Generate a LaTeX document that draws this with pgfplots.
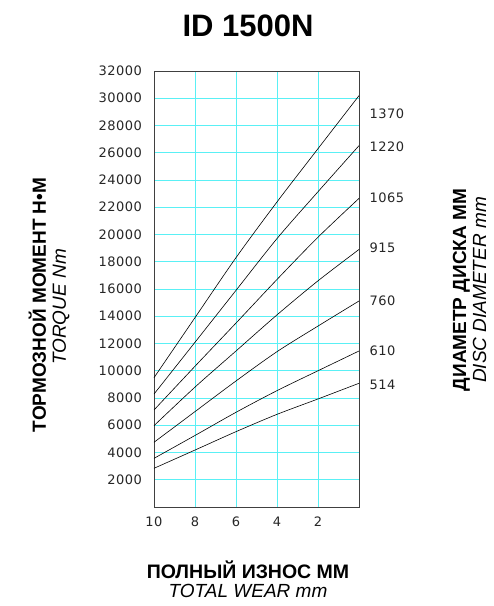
\documentclass[border=0pt]{standalone}
\usepackage{fontspec}
\setmainfont{Liberation Sans}
\newfontfamily\tickfont[LetterSpace=4]{DejaVu Sans}
\usepackage{pgfplots}
\pgfplotsset{compat=1.18}
\definecolor{gridcyan}{RGB}{90,240,245}

\begin{document}
\begin{tikzpicture}[x=1pt,y=1pt]
\path[use as bounding box] (-154,-99) rectangle (340,507);
\begin{axis}[
  at={(0,0)}, anchor=south west,
  scale only axis, width=205pt, height=436pt,
  xmin=0, xmax=10, x dir=reverse,
  ymin=0, ymax=32000,
  xtick={2,4,6,8,10}, ytick={2000,4000,...,32000},
  grid=major, major grid style={gridcyan, line width=0.6pt},
  major tick length=0pt,
  axis line style={black!75, line width=0.8pt},
  tick label style={font=\tickfont\fontsize{13}{15}\selectfont, text=black!85},
  yticklabel style={xshift=-8.5pt},
  xticklabel style={yshift=-6.7pt},
  /pgf/number format/assume math mode=true,
  /pgf/number format/set thousands separator={},
  scaled y ticks=false,
  clip=false,
]
\addplot[black, line width=0.6pt, smooth] coordinates {(10,2840) (8,4180) (6,5530) (4,6800) (2,7930) (0,9080)};
\addplot[black, line width=0.6pt, smooth] coordinates {(10,3570) (8,5250) (6,6950) (4,8540) (2,10000) (0,11450)};
\addplot[black, line width=0.6pt, smooth] coordinates {(10,4750) (8,7000) (6,9250) (4,11400) (2,13280) (0,15120)};
\addplot[black, line width=0.6pt, smooth] coordinates {(10,5970) (8,8800) (6,11450) (4,14100) (2,16600) (0,18900)};
\addplot[black, line width=0.6pt, smooth] coordinates {(10,7120) (8,10330) (6,13500) (4,16700) (2,19800) (0,22650)};
\addplot[black, line width=0.6pt, smooth] coordinates {(10,8290) (8,12090) (6,15900) (4,19700) (2,23140) (0,26520)};
\addplot[black, line width=0.6pt, smooth] coordinates {(10,9490) (8,13900) (6,18300) (4,22390) (2,26300) (0,30190)};
\begin{scope}[every node/.style={anchor=west, xshift=7pt, font=\tickfont\fontsize{13}{15}\selectfont, text=black!85}]
\node at (axis cs:0,28850) {1370};
\node at (axis cs:0,26450) {1220};
\node at (axis cs:0,22700) {1065};
\node at (axis cs:0,19000) {915};
\node at (axis cs:0,15150) {760};
\node at (axis cs:0,11450) {610};
\node at (axis cs:0,9000) {514};
\end{scope}
\end{axis}
\node[anchor=base, font=\bfseries\fontsize{31}{36}\selectfont] at (94,470.3) {ID 1500N};
\node[anchor=base, inner sep=0pt, font=\bfseries\fontsize{19.5}{22}\selectfont] at (94,-71) {ПОЛНЫЙ ИЗНОС ММ};
\node[anchor=base, inner sep=0pt, font=\itshape\fontsize{19}{22}\selectfont] at (94,-90) {TOTAL WEAR mm};
\node[anchor=base, inner sep=0pt, font=\bfseries\fontsize{19}{22}\selectfont, rotate=90] at (-108,202) {ТОРМОЗНОЙ МОМЕНТ Н•М};
\node[anchor=base, inner sep=0pt, font=\itshape\fontsize{19}{22}\selectfont, rotate=90] at (-88,200) {TORQUE Nm};
\node[anchor=base, inner sep=0pt, font=\bfseries\fontsize{19}{22}\selectfont, rotate=90] at (312,217) {ДИАМЕТР ДИСКА ММ};
\node[anchor=base, inner sep=0pt, font=\itshape\fontsize{19}{22}\selectfont, rotate=90] at (332,217) {DISC DIAMETER mm};
\end{tikzpicture}
\end{document}
